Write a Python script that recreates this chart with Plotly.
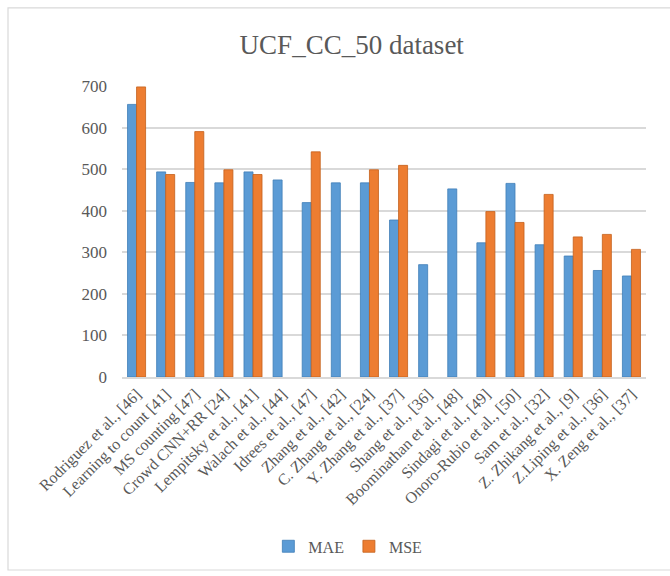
import plotly.graph_objects as go

categories = [
    "Rodriguez et al., [46]", "Learning to count [41]", "MS counting [47]",
    "Crowd CNN+RR [24]", "Lempitsky et al., [41]", "Walach et al., [44]",
    "Idrees et al., [47]", "Zhang et al., [42]", "C. Zhang et al., [24]",
    "Y. Zhang et al., [37]", "Shang et al., [36]", "Boominathan et al., [48]",
    "Sindagi et al., [49]", "Onoro-Rubio et al., [50]", "Sam et al., [32]",
    "Z. Zhikang et al., [9]", "Z.Liping et al., [36]", "X. Zeng et al., [37]",
]
mae = [655.7, 493.4, 468.0, 467.0, 493.4, 474.0, 419.5, 467.0, 467.0,
       377.6, 270.3, 452.5, 322.8, 465.7, 318.1, 291.0, 256.2, 243.0]
mse = [697.8, 487.1, 590.3, 498.5, 487.1, None, 541.6, None, 498.5,
       509.1, None, None, 397.9, 371.8, 439.2, 337.0, 343.0, 307.0]

font_family = "serif"
text_color = "#595959"

fig = go.Figure()
fig.add_trace(go.Bar(
    x=categories, y=mae, name="MAE",
    marker=dict(color="#5B9BD5", line=dict(color="#3F7DB8", width=0.8)),
))
fig.add_trace(go.Bar(
    x=categories, y=mse, name="MSE",
    marker=dict(color="#ED7D31", line=dict(color="#C45F1A", width=0.8)),
))

fig.update_layout(
    width=670, height=576,
    margin=dict(l=122, r=24, t=86, b=196),
    paper_bgcolor="white", plot_bgcolor="white",
    barmode="group", bargap=0.38, bargroupgap=0.0,
    font=dict(family=font_family, color=text_color, size=16),
    title=dict(text="UCF_CC_50 dataset", x=0.525, xanchor="center",
               y=1 - 45 / 576, yanchor="middle",
               font=dict(family=font_family, size=27, color=text_color)),
    legend=dict(orientation="h", x=0.431, xanchor="center", y=-0.582,
                yanchor="middle", font=dict(family=font_family, size=16, color=text_color),
                itemwidth=30, traceorder="normal"),
    showlegend=True,
)
fig.update_xaxes(
    tickangle=-45, tickfont=dict(family=font_family, size=16, color=text_color),
    showline=True, linecolor="#D9D9D9", linewidth=1.5,
    ticks="", showgrid=False,
)
fig.update_yaxes(
    range=[0, 700], dtick=100, tickfont=dict(family=font_family, size=17, color=text_color),
    showgrid=True, gridcolor="#D9D9D9", gridwidth=1.5,
    zeroline=False, ticklabelstandoff=14, showline=False,
)
fig.add_shape(type="rect", xref="paper", yref="paper",
              x0=-(122 - 8) / 524, x1=1 + 30 / 524,
              y0=-(575 - 380) / 294, y1=1 + (86 - 7) / 294,
              line=dict(color="#D9D9D9", width=1.2), layer="below")

fig.write_html("out.html")
